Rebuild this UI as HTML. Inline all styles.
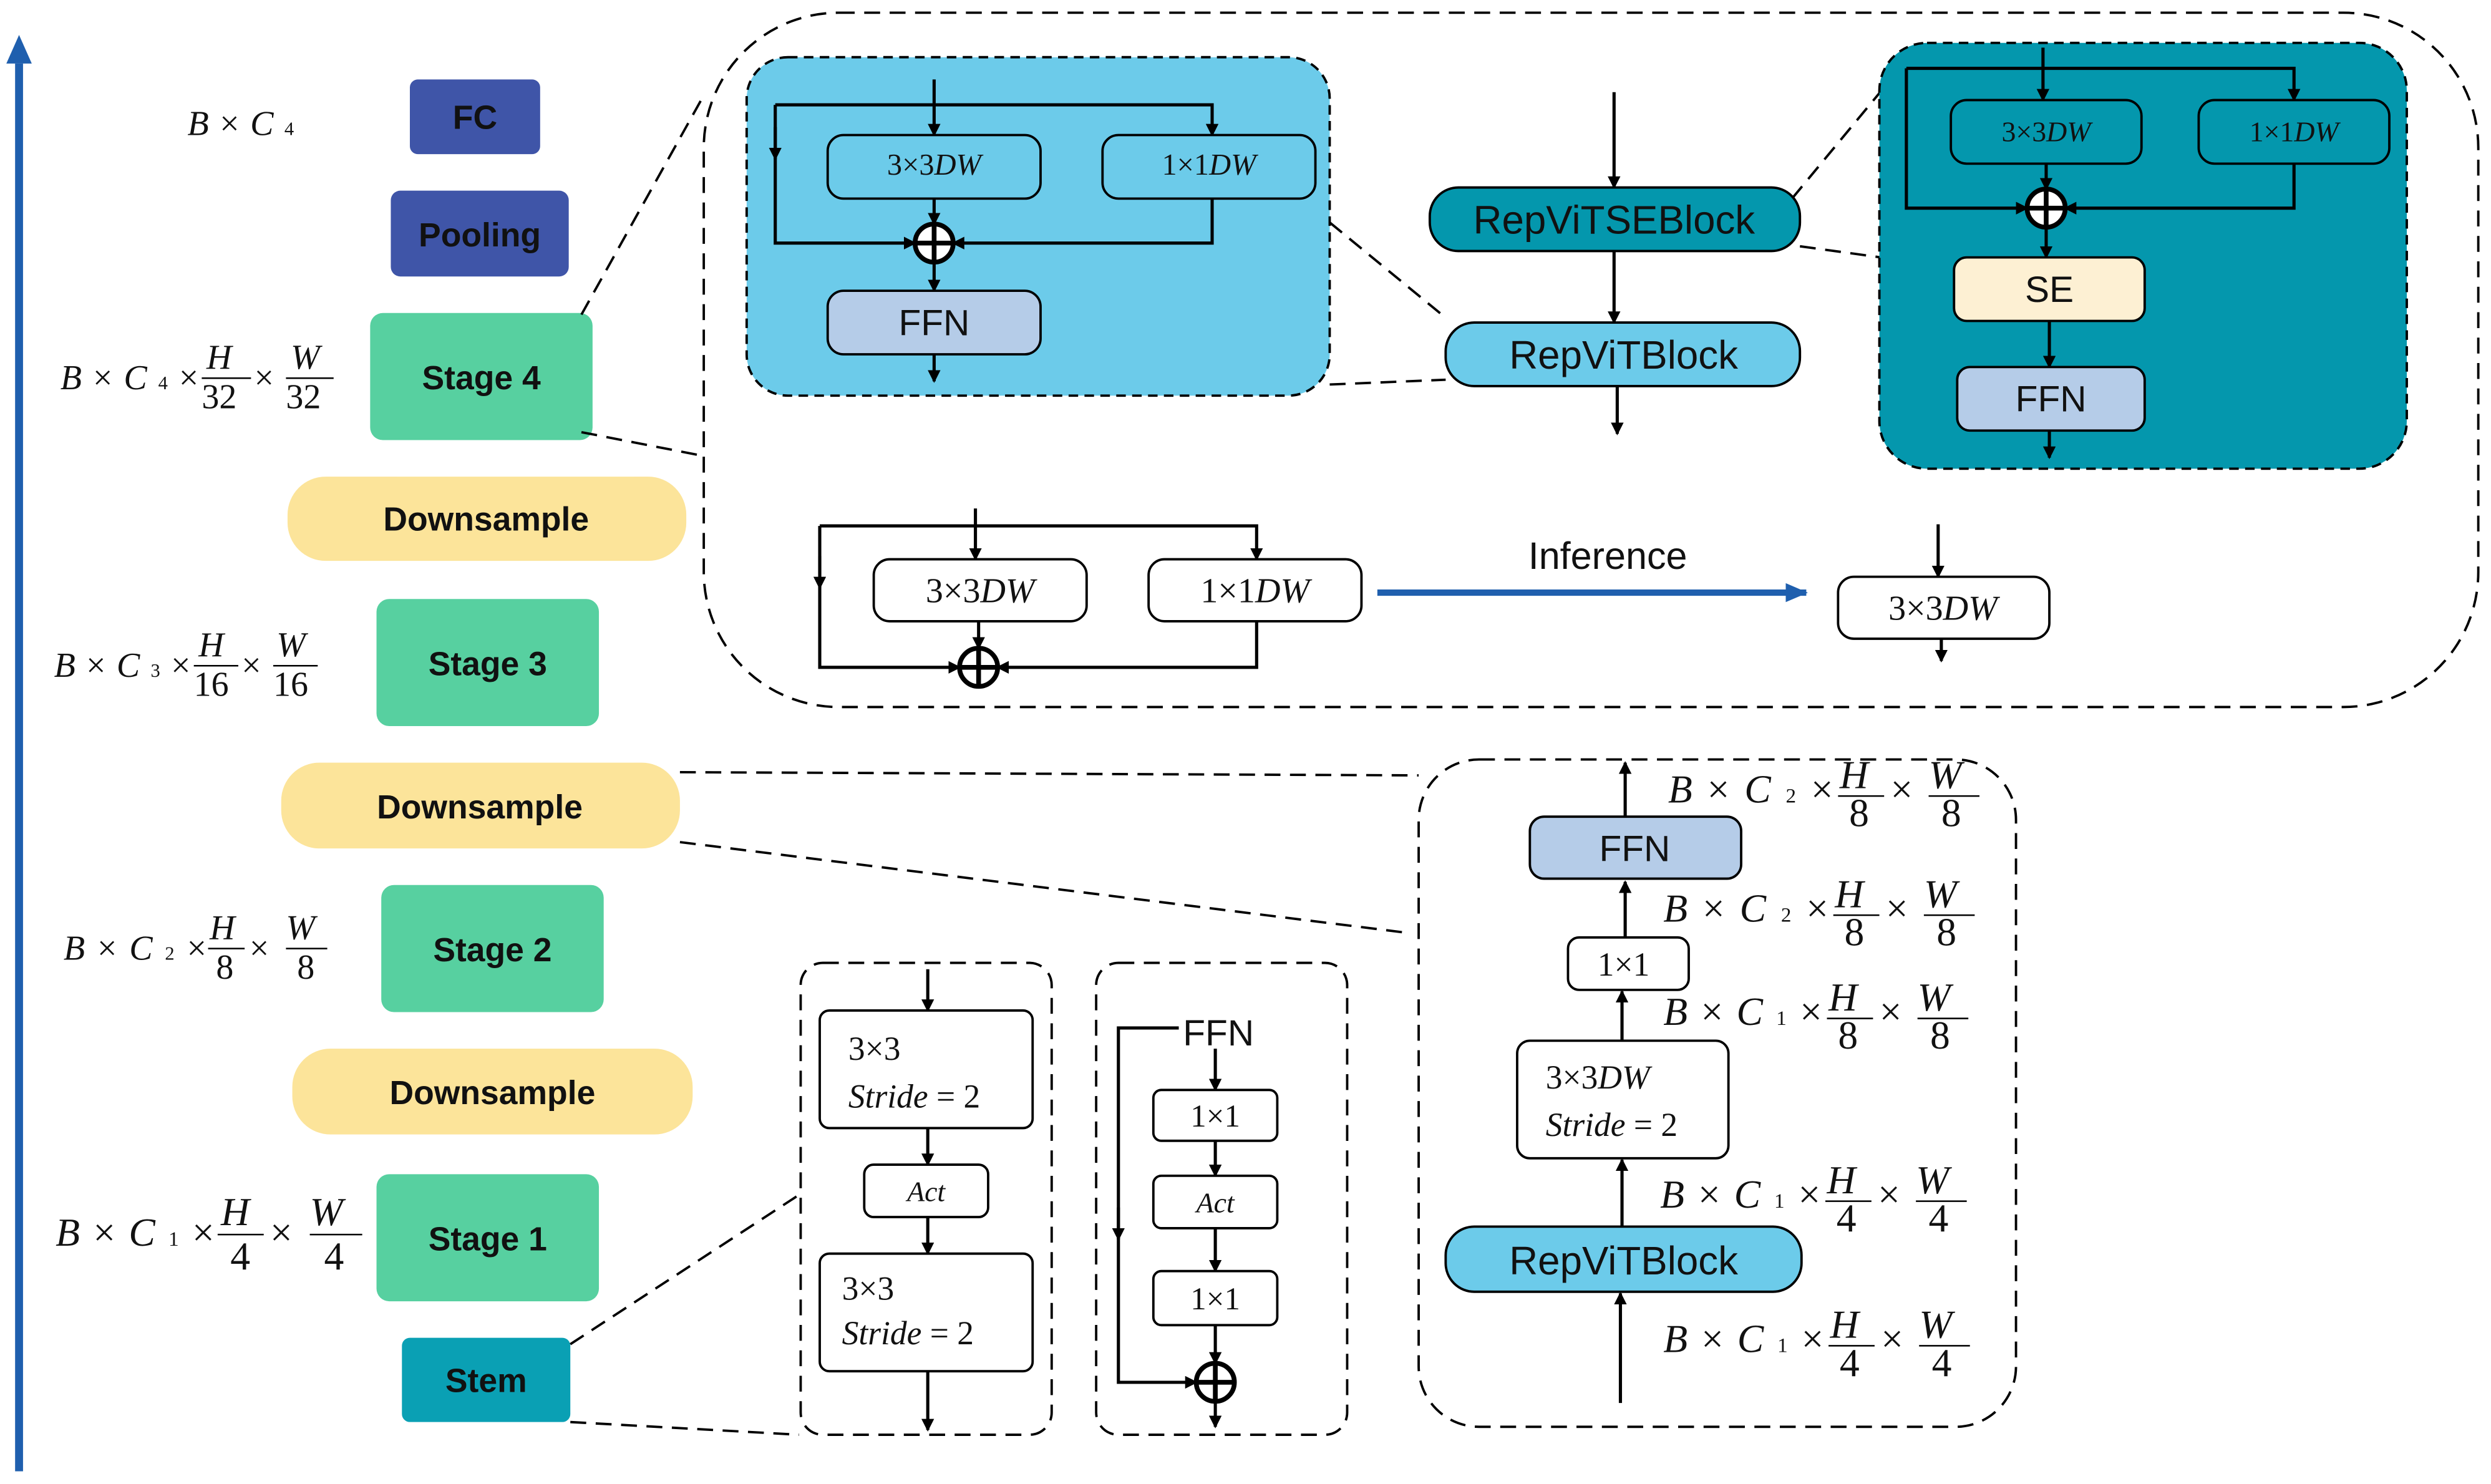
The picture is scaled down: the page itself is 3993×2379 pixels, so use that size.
<!DOCTYPE html>
<html><head><meta charset="utf-8"><style>
html,body{margin:0;padding:0;background:#fff}
svg{display:block}
.b{font-family:"Liberation Sans",sans-serif;font-weight:bold;fill:#111}
.s{font-family:"Liberation Sans",sans-serif;fill:#111}
.m{font-family:"Liberation Serif",serif;font-style:italic;fill:#111}
.n{font-family:"Liberation Serif",serif;font-style:normal;fill:#111}
</style></head><body>
<svg width="3993" height="2379" viewBox="0 0 1568 934" preserveAspectRatio="none" xmlns="http://www.w3.org/2000/svg">
<defs>
<marker id="a" markerWidth="8" markerHeight="8" refX="7" refY="4" orient="auto" markerUnits="userSpaceOnUse"><path d="M0,0 L8,4 L0,8 z" fill="#000"/></marker>
<marker id="ab" markerWidth="14" markerHeight="12" refX="13" refY="6" orient="auto" markerUnits="userSpaceOnUse"><path d="M0,0 L14,6 L0,12 z" fill="#1f5fae"/></marker>
<g id="op"><circle r="12" fill="#fff" stroke="#000" stroke-width="3"/><path d="M-12,0H12M0,-12V12" stroke="#000" stroke-width="3"/></g>
</defs>
<line x1="12" y1="926" x2="12" y2="40" stroke="#1f5fae" stroke-width="5"/>
<path d="M4,40 L12,22 L20,40 z" fill="#1f5fae"/>

<rect x="258" y="50" width="82" height="47" rx="5" fill="#3f55a8"/><text x="299" y="81" class="b" font-size="21" text-anchor="middle">FC</text>
<rect x="246" y="120" width="112" height="54" rx="6" fill="#3f55a8"/><text x="302" y="155" class="b" font-size="21" text-anchor="middle">Pooling</text>
<rect x="233" y="197" width="140" height="80" rx="8" fill="#57d0a0"/><text x="303" y="245" class="b" font-size="21" text-anchor="middle">Stage 4</text>
<rect x="181" y="300" width="251" height="53" rx="24" fill="#fce49a"/><text x="306" y="334" class="b" font-size="21" text-anchor="middle">Downsample</text>
<rect x="237" y="377" width="140" height="80" rx="8" fill="#57d0a0"/><text x="307" y="425" class="b" font-size="21" text-anchor="middle">Stage 3</text>
<rect x="177" y="480" width="251" height="54" rx="24" fill="#fce49a"/><text x="302" y="515" class="b" font-size="21" text-anchor="middle">Downsample</text>
<rect x="240" y="557" width="140" height="80" rx="8" fill="#57d0a0"/><text x="310" y="605" class="b" font-size="21" text-anchor="middle">Stage 2</text>
<rect x="184" y="660" width="252" height="54" rx="24" fill="#fce49a"/><text x="310" y="695" class="b" font-size="21" text-anchor="middle">Downsample</text>
<rect x="237" y="739" width="140" height="80" rx="8" fill="#57d0a0"/><text x="307" y="787" class="b" font-size="21" text-anchor="middle">Stage 1</text>
<rect x="253" y="842" width="106" height="53" rx="5" fill="#0aa0b4"/><text x="306" y="876" class="b" font-size="21" text-anchor="middle">Stem</text>

<text x="118" y="85" class="m" font-size="22" textLength="67" lengthAdjust="spacing">B<tspan class="n">×</tspan>C<tspan font-size="12" class="n">4</tspan></text>
<g class="m" font-size="22">
<text x="38" y="245" textLength="87" lengthAdjust="spacing">B<tspan class="n">×</tspan>C<tspan font-size="12" class="n">4</tspan><tspan class="n">×</tspan></text>
<text x="130" y="232">H</text><line x1="127" y1="238" x2="158" y2="238" stroke="#000"/><text x="127" y="257" class="n">32</text>
<text x="160" y="245" class="n">×</text>
<text x="183" y="232">W</text><line x1="180" y1="238" x2="210" y2="238" stroke="#000"/><text x="180" y="257" class="n">32</text>
<text x="34" y="426" textLength="86" lengthAdjust="spacing">B<tspan class="n">×</tspan>C<tspan font-size="12" class="n">3</tspan><tspan class="n">×</tspan></text>
<text x="125" y="413">H</text><line x1="122" y1="419" x2="150" y2="419" stroke="#000"/><text x="122" y="438" class="n">16</text>
<text x="152" y="426" class="n">×</text>
<text x="174" y="413">W</text><line x1="172" y1="419" x2="200" y2="419" stroke="#000"/><text x="172" y="438" class="n">16</text>
<text x="40" y="604" textLength="90" lengthAdjust="spacing">B<tspan class="n">×</tspan>C<tspan font-size="12" class="n">2</tspan><tspan class="n">×</tspan></text>
<text x="132" y="591">H</text><line x1="131" y1="597" x2="154" y2="597" stroke="#000"/><text x="136" y="616" class="n">8</text>
<text x="157" y="604" class="n">×</text>
<text x="180" y="591">W</text><line x1="180" y1="597" x2="206" y2="597" stroke="#000"/><text x="187" y="616" class="n">8</text>
</g>
<g class="m" font-size="25">
<text x="35" y="784" textLength="100" lengthAdjust="spacing">B<tspan class="n">×</tspan>C<tspan font-size="13" class="n">1</tspan><tspan class="n">×</tspan></text>
<text x="139" y="771">H</text><line x1="137" y1="777" x2="166" y2="777" stroke="#000"/><text x="145" y="799" class="n">4</text>
<text x="170" y="784" class="n">×</text>
<text x="195" y="771">W</text><line x1="195" y1="777" x2="228" y2="777" stroke="#000"/><text x="204" y="799" class="n">4</text>
</g>

<g stroke="#000" stroke-width="1.5" stroke-dasharray="10,6" fill="none">
<line x1="366" y1="198" x2="443" y2="60"/>
<line x1="366" y1="272" x2="443" y2="287"/>
<line x1="428" y1="486" x2="893" y2="488"/>
<line x1="428" y1="530" x2="885" y2="587"/>
<line x1="359" y1="846" x2="503" y2="752"/>
<line x1="359" y1="895" x2="503" y2="903"/>
<line x1="837" y1="140" x2="910" y2="200"/>
<line x1="837" y1="242" x2="910" y2="239"/>
<line x1="1128" y1="125" x2="1186" y2="55"/>
<line x1="1133" y1="155" x2="1184" y2="162"/>
<rect x="443" y="8" width="1117" height="437" rx="85"/>
<rect x="893" y="478" width="376" height="420" rx="38"/>
<rect x="504" y="606" width="158" height="297" rx="14"/>
<rect x="690" y="606" width="158" height="297" rx="14"/>
</g>

<rect x="470" y="36" width="367" height="213" rx="26" fill="#6ccbea" stroke="#000" stroke-width="1.5" stroke-dasharray="6,4"/>
<g stroke="#000" stroke-width="2" fill="none">
<line x1="588" y1="50" x2="588" y2="85" marker-end="url(#a)"/>
<polyline points="488,66 763,66 763,85" marker-end="url(#a)"/>
<polyline points="488,66 488,153 576,153" marker-end="url(#a)"/>
<line x1="488" y1="80" x2="488" y2="100" marker-end="url(#a)"/>
<polyline points="763,125 763,153 600,153" marker-end="url(#a)"/>
<line x1="588" y1="125" x2="588" y2="141" marker-end="url(#a)"/>
<line x1="588" y1="165" x2="588" y2="183" marker-end="url(#a)"/>
<line x1="588" y1="223" x2="588" y2="240" marker-end="url(#a)"/>
</g>
<rect x="521" y="85" width="134" height="40" rx="10" fill="#6ccbea" stroke="#000" stroke-width="1.5"/>
<text x="588" y="110" class="m" font-size="19" text-anchor="middle"><tspan class="n">3×3</tspan>DW</text>
<rect x="694" y="85" width="134" height="40" rx="10" fill="#6ccbea" stroke="#000" stroke-width="1.5"/>
<text x="761" y="110" class="m" font-size="19" text-anchor="middle"><tspan class="n">1×1</tspan>DW</text>
<use href="#op" x="588" y="153"/>
<rect x="521" y="183" width="134" height="40" rx="10" fill="#b5cce8" stroke="#000" stroke-width="1.5"/>
<text x="588" y="211" class="s" font-size="23" text-anchor="middle">FFN</text>

<g stroke="#000" stroke-width="2">
<line x1="1016" y1="58" x2="1016" y2="118" marker-end="url(#a)"/>
<line x1="1016" y1="158" x2="1016" y2="203" marker-end="url(#a)"/>
<line x1="1018" y1="243" x2="1018" y2="273" marker-end="url(#a)"/>
</g>
<rect x="900" y="118" width="233" height="40" rx="18" fill="#0497ad" stroke="#000" stroke-width="1.5"/>
<text x="1016" y="147" class="s" font-size="25" text-anchor="middle">RepViTSEBlock</text>
<rect x="910" y="203" width="223" height="40" rx="18" fill="#6ccbea" stroke="#000" stroke-width="1.5"/>
<text x="1022" y="232" class="s" font-size="25" text-anchor="middle">RepViTBlock</text>

<rect x="1183" y="27" width="332" height="268" rx="30" fill="#0497ad" stroke="#000" stroke-width="1.5" stroke-dasharray="6,4"/>
<g stroke="#000" stroke-width="2" fill="none">
<line x1="1286" y1="30" x2="1286" y2="63" marker-end="url(#a)"/>
<polyline points="1200,43 1444,43 1444,63" marker-end="url(#a)"/>
<polyline points="1200,43 1200,131 1276,131" marker-end="url(#a)"/>
<polyline points="1444,103 1444,131 1300,131" marker-end="url(#a)"/>
<line x1="1288" y1="103" x2="1288" y2="119" marker-end="url(#a)"/>
<line x1="1288" y1="143" x2="1288" y2="162" marker-end="url(#a)"/>
<line x1="1290" y1="202" x2="1290" y2="231" marker-end="url(#a)"/>
<line x1="1290" y1="271" x2="1290" y2="288" marker-end="url(#a)"/>
</g>
<rect x="1228" y="63" width="120" height="40" rx="10" fill="#0497ad" stroke="#000" stroke-width="1.5"/>
<text x="1288" y="89" class="m" font-size="18" text-anchor="middle"><tspan class="n">3×3</tspan>DW</text>
<rect x="1384" y="63" width="120" height="40" rx="10" fill="#0497ad" stroke="#000" stroke-width="1.5"/>
<text x="1444" y="89" class="m" font-size="18" text-anchor="middle"><tspan class="n">1×1</tspan>DW</text>
<use href="#op" x="1288" y="131"/>
<rect x="1230" y="162" width="120" height="40" rx="8" fill="#fdf0d3" stroke="#000" stroke-width="1.5"/>
<text x="1290" y="190" class="s" font-size="23" text-anchor="middle">SE</text>
<rect x="1232" y="231" width="118" height="40" rx="8" fill="#b5cce8" stroke="#000" stroke-width="1.5"/>
<text x="1291" y="259" class="s" font-size="23" text-anchor="middle">FFN</text>

<g stroke="#000" stroke-width="2" fill="none">
<line x1="614" y1="320" x2="614" y2="352" marker-end="url(#a)"/>
<polyline points="516,331 791,331 791,352" marker-end="url(#a)"/>
<polyline points="516,331 516,420 604,420" marker-end="url(#a)"/>
<line x1="516" y1="350" x2="516" y2="370" marker-end="url(#a)"/>
<polyline points="791,391 791,420 628,420" marker-end="url(#a)"/>
<line x1="616" y1="391" x2="616" y2="408" marker-end="url(#a)"/>
<line x1="1220" y1="330" x2="1220" y2="363" marker-end="url(#a)"/>
<line x1="1222" y1="402" x2="1222" y2="416" marker-end="url(#a)"/>
</g>
<rect x="550" y="352" width="134" height="39" rx="10" fill="#fff" stroke="#000" stroke-width="1.5"/>
<text x="617" y="379" class="m" font-size="22" text-anchor="middle"><tspan class="n">3×3</tspan>DW</text>
<rect x="723" y="352" width="134" height="39" rx="10" fill="#fff" stroke="#000" stroke-width="1.5"/>
<text x="790" y="379" class="m" font-size="22" text-anchor="middle"><tspan class="n">1×1</tspan>DW</text>
<use href="#op" x="616" y="420"/>
<line x1="867" y1="373" x2="1137" y2="373" stroke="#1f5fae" stroke-width="4" marker-end="url(#ab)"/>
<text x="1012" y="358" class="s" font-size="24" text-anchor="middle">Inference</text>
<rect x="1157" y="363" width="133" height="39" rx="10" fill="#fff" stroke="#000" stroke-width="1.5"/>
<text x="1223" y="390" class="m" font-size="22" text-anchor="middle"><tspan class="n">3×3</tspan>DW</text>

<g stroke="#000" stroke-width="2">
<line x1="1023" y1="514" x2="1023" y2="480" marker-end="url(#a)"/>
<line x1="1023" y1="590" x2="1023" y2="555" marker-end="url(#a)"/>
<line x1="1021" y1="655" x2="1021" y2="624" marker-end="url(#a)"/>
<line x1="1021" y1="772" x2="1021" y2="730" marker-end="url(#a)"/>
<line x1="1020" y1="883" x2="1020" y2="814" marker-end="url(#a)"/>
</g>
<rect x="963" y="514" width="133" height="39" rx="9" fill="#b5cce8" stroke="#000" stroke-width="1.5"/>
<text x="1029" y="542" class="s" font-size="23" text-anchor="middle">FFN</text>
<rect x="987" y="590" width="76" height="33" rx="7" fill="#fff" stroke="#000" stroke-width="1.5"/>
<text x="1022" y="614" class="n" font-size="21" text-anchor="middle">1×1</text>
<rect x="955" y="655" width="133" height="74" rx="8" fill="#fff" stroke="#000" stroke-width="1.5"/>
<text x="973" y="685" class="m" font-size="21"><tspan class="n">3×3</tspan>DW</text>
<text x="973" y="715" class="m" font-size="21">Stride<tspan class="n"> = 2</tspan></text>
<rect x="910" y="772" width="224" height="41" rx="18" fill="#6ccbea" stroke="#000" stroke-width="1.5"/>
<text x="1022" y="802" class="s" font-size="25" text-anchor="middle">RepViTBlock</text>

<g class="m" font-size="25">
<text x="1050" y="505" textLength="104" lengthAdjust="spacing">B<tspan class="n">×</tspan>C<tspan font-size="13" class="n">2</tspan><tspan class="n">×</tspan></text>
<text x="1158" y="496">H</text><line x1="1157" y1="501" x2="1186" y2="501" stroke="#000"/><text x="1164" y="520" class="n">8</text>
<text x="1190" y="505" class="n">×</text>
<text x="1214" y="496">W</text><line x1="1214" y1="501" x2="1246" y2="501" stroke="#000"/><text x="1222" y="520" class="n">8</text>
<text x="1047" y="580" textLength="104" lengthAdjust="spacing">B<tspan class="n">×</tspan>C<tspan font-size="13" class="n">2</tspan><tspan class="n">×</tspan></text>
<text x="1155" y="571">H</text><line x1="1154" y1="576" x2="1183" y2="576" stroke="#000"/><text x="1161" y="595" class="n">8</text>
<text x="1187" y="580" class="n">×</text>
<text x="1211" y="571">W</text><line x1="1211" y1="576" x2="1243" y2="576" stroke="#000"/><text x="1219" y="595" class="n">8</text>
<text x="1047" y="645" textLength="100" lengthAdjust="spacing">B<tspan class="n">×</tspan>C<tspan font-size="13" class="n">1</tspan><tspan class="n">×</tspan></text>
<text x="1151" y="636">H</text><line x1="1150" y1="641" x2="1179" y2="641" stroke="#000"/><text x="1157" y="660" class="n">8</text>
<text x="1183" y="645" class="n">×</text>
<text x="1207" y="636">W</text><line x1="1207" y1="641" x2="1239" y2="641" stroke="#000"/><text x="1215" y="660" class="n">8</text>
<text x="1045" y="760" textLength="101" lengthAdjust="spacing">B<tspan class="n">×</tspan>C<tspan font-size="13" class="n">1</tspan><tspan class="n">×</tspan></text>
<text x="1150" y="751">H</text><line x1="1149" y1="756" x2="1178" y2="756" stroke="#000"/><text x="1156" y="775" class="n">4</text>
<text x="1182" y="760" class="n">×</text>
<text x="1206" y="751">W</text><line x1="1206" y1="756" x2="1238" y2="756" stroke="#000"/><text x="1214" y="775" class="n">4</text>
<text x="1047" y="851" textLength="101" lengthAdjust="spacing">B<tspan class="n">×</tspan>C<tspan font-size="13" class="n">1</tspan><tspan class="n">×</tspan></text>
<text x="1152" y="842">H</text><line x1="1151" y1="847" x2="1180" y2="847" stroke="#000"/><text x="1158" y="866" class="n">4</text>
<text x="1184" y="851" class="n">×</text>
<text x="1208" y="842">W</text><line x1="1208" y1="847" x2="1240" y2="847" stroke="#000"/><text x="1216" y="866" class="n">4</text>
</g>

<g stroke="#000" stroke-width="2" fill="none">
<line x1="584" y1="610" x2="584" y2="636" marker-end="url(#a)"/>
<line x1="584" y1="710" x2="584" y2="733" marker-end="url(#a)"/>
<line x1="584" y1="766" x2="584" y2="789" marker-end="url(#a)"/>
<line x1="584" y1="863" x2="584" y2="900" marker-end="url(#a)"/>
<polyline points="742,647 704,647 704,870 753,870" marker-end="url(#a)"/>
<line x1="704" y1="760" x2="704" y2="780" marker-end="url(#a)"/>
<line x1="765" y1="660" x2="765" y2="686" marker-end="url(#a)"/>
<line x1="765" y1="718" x2="765" y2="740" marker-end="url(#a)"/>
<line x1="765" y1="773" x2="765" y2="800" marker-end="url(#a)"/>
<line x1="765" y1="834" x2="765" y2="858" marker-end="url(#a)"/>
<line x1="765" y1="882" x2="765" y2="898" marker-end="url(#a)"/>
</g>
<rect x="516" y="636" width="134" height="74" rx="6" fill="#fff" stroke="#000" stroke-width="1.5"/>
<text x="534" y="667" class="n" font-size="21">3×3</text>
<text x="534" y="697" class="m" font-size="21">Stride<tspan class="n"> = 2</tspan></text>
<rect x="544" y="733" width="78" height="33" rx="6" fill="#fff" stroke="#000" stroke-width="1.5"/>
<text x="583" y="756" class="m" font-size="18" text-anchor="middle">Act</text>
<rect x="516" y="789" width="134" height="74" rx="6" fill="#fff" stroke="#000" stroke-width="1.5"/>
<text x="530" y="818" class="n" font-size="21">3×3</text>
<text x="530" y="846" class="m" font-size="21">Stride<tspan class="n"> = 2</tspan></text>
<text x="767" y="658" class="s" font-size="23" text-anchor="middle">FFN</text>
<rect x="726" y="686" width="78" height="32" rx="5" fill="#fff" stroke="#000" stroke-width="1.5"/>
<text x="765" y="709" class="n" font-size="20" text-anchor="middle">1×1</text>
<rect x="726" y="740" width="78" height="33" rx="5" fill="#fff" stroke="#000" stroke-width="1.5"/>
<text x="765" y="763" class="m" font-size="18" text-anchor="middle">Act</text>
<rect x="726" y="800" width="78" height="34" rx="5" fill="#fff" stroke="#000" stroke-width="1.5"/>
<text x="765" y="824" class="n" font-size="20" text-anchor="middle">1×1</text>
<use href="#op" x="765" y="870"/>
</svg>
</body></html>
